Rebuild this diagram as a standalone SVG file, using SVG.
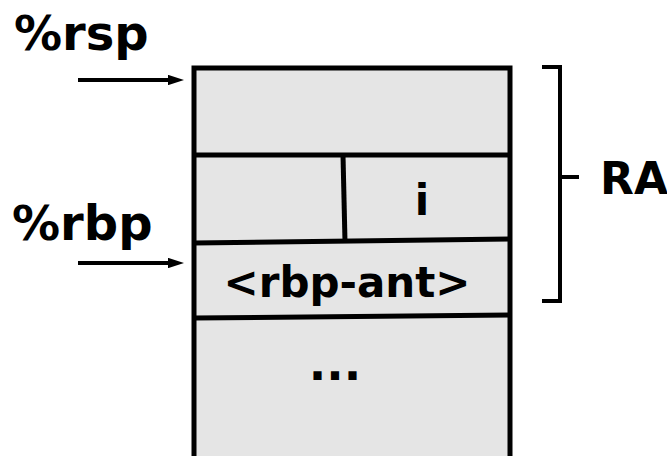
<svg xmlns="http://www.w3.org/2000/svg" width="667" height="456" viewBox="0 0 667 456">
<style>
.t{font-family:"DejaVu Sans","Liberation Sans",sans-serif;font-weight:bold;fill:#000}
.ln{stroke:#000;stroke-width:5;fill:none}
.ar{stroke:#000;stroke-width:4;fill:none}
</style>
<defs>
<marker id="ah" markerWidth="4" markerHeight="2.6" refX="0" refY="1.3" orient="auto" markerUnits="strokeWidth">
<path d="M0,0 L4,1.3 L0,2.6 z" fill="#000"/>
</marker>
</defs>
<g id="stack">
<rect x="194" y="68" width="316" height="400" fill="#e5e5e5" stroke="#000" stroke-width="5"/>
<line class="ln" x1="194" y1="155" x2="510" y2="155"/>
<line class="ln" x1="194" y1="243" x2="510" y2="239"/>
<line class="ln" x1="194" y1="318" x2="510" y2="315"/>
<line class="ln" x1="343" y1="155" x2="345" y2="242"/>
</g>
<g id="cell-i"><text class="t" x="422" y="215" font-size="42" text-anchor="middle">i</text></g>
<g id="cell-rbp-ant"><text class="t" x="347" y="297" font-size="42" text-anchor="middle">&lt;rbp-ant&gt;</text></g>
<g id="cell-dots"><text class="t" x="335" y="380" font-size="46" text-anchor="middle">...</text></g>
<g id="label-rsp"><text class="t" x="14" y="50" font-size="48">%rsp</text></g>
<g id="label-rbp"><text class="t" x="12" y="240" font-size="48">%rbp</text></g>
<g id="label-ra"><text class="t" x="600" y="194" font-size="44">RA</text></g>
<g id="connectors">
<line class="ar" x1="78" y1="80" x2="168" y2="80" marker-end="url(#ah)"/>
<line class="ar" x1="78" y1="263" x2="168" y2="263" marker-end="url(#ah)"/>
<path class="ar" d="M542,67 H560 V301 H542 M560,177 H579" stroke-width="3"/>
</g>
</svg>
